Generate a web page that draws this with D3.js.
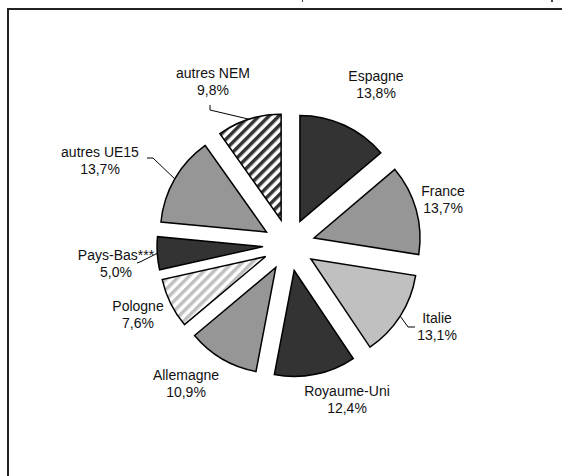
<!DOCTYPE html>
<html><head><meta charset="utf-8">
<script src="https://cdn.jsdelivr.net/npm/d3@7"></script>
<style>
html,body{margin:0;padding:0;background:#fff;}
svg{display:block;}
text{font-family:"Liberation Sans",Arial,sans-serif;font-size:14px;fill:#111;}
</style></head>
<body>
<svg id="chart" width="562" height="476"></svg>
<script>
// ---- data ----
const categories = ["Espagne","France","Italie","Royaume-Uni","Allemagne","Pologne","Pays-Bas***","autres UE15","autres NEM"];
const values = [13.8, 13.7, 13.1, 12.4, 10.9, 7.6, 5.0, 13.7, 9.8];
const valueLabels = ["13,8%","13,7%","13,1%","12,4%","10,9%","7,6%","5,0%","13,7%","9,8%"];

// ---- styles / layout (separate from data) ----
const fills = ["#333333","#969696","#c0c0c0","#333333","#969696","url(#stripeLight)","#333333","#969696","url(#stripeDark)"];
const labelPos = [[376,81],[443,196],[437,323],[347,396],[186,380],[138,311],[116,260],[100,157],[213,78]];
// leader: [elbow, end] or null
const leaders = [null,null,[[408,327],[415,327]],null,null,null,[[140,262],[137,263]],[[153,158],[147,158]],[[210,110],[210,105]]];

const cx = 289, cy = 245, R = 106, explode = 26;

const svg = d3.select("#chart");
const defs = svg.append("defs");
function stripe(id, color){
  const p = defs.append("pattern").attr("id", id).attr("patternUnits","userSpaceOnUse")
    .attr("width",7).attr("height",7).attr("patternTransform","rotate(45)");
  p.append("rect").attr("width",7).attr("height",7).attr("fill","#fff");
  p.append("rect").attr("width",3.5).attr("height",7).attr("fill",color);
}
stripe("stripeDark","#333333");
stripe("stripeLight","#c0c0c0");

// frame
svg.append("rect").attr("x",8).attr("y",9).attr("width",700).attr("height",700)
  .attr("fill","none").attr("stroke","#222").attr("stroke-width",2);
svg.append("rect").attr("x",302).attr("y",0).attr("width",1).attr("height",2).attr("fill","#444");
svg.append("rect").attr("x",551).attr("y",0).attr("width",2).attr("height",2).attr("fill","#444");

const pie = d3.pie().sort(null).value(d => d).startAngle(0).endAngle(2*Math.PI);
const arcs = pie(values);
const arc = d3.arc().innerRadius(0).outerRadius(R);

const g = svg.append("g").attr("transform", `translate(${cx},${cy})`);
function off(a){ const m=(a.startAngle+a.endAngle)/2; return [Math.sin(m)*explode, -Math.cos(m)*explode]; }

g.selectAll("path.slice").data(arcs).join("path")
  .attr("class","slice")
  .attr("d", arc)
  .attr("transform", d => { const o=off(d); return `translate(${o[0]},${o[1]})`; })
  .attr("fill", (d,i) => fills[i])
  .attr("stroke","#000").attr("stroke-width",1.5).attr("stroke-linejoin","miter");

// leader lines
arcs.forEach((a,i) => {
  if(!leaders[i]) return;
  const m=(a.startAngle+a.endAngle)/2, o=off(a);
  const sx = cx + o[0] + Math.sin(m)*R, sy = cy + o[1] - Math.cos(m)*R;
  const pts = [[sx,sy]].concat(leaders[i]);
  svg.append("path").attr("d", d3.line()(pts)).attr("fill","none").attr("stroke","#000").attr("stroke-width",1);
});

// labels
const lbl = svg.append("g");
categories.forEach((c,i) => {
  const t = lbl.append("text").attr("text-anchor","middle")
    .attr("x", labelPos[i][0]).attr("y", labelPos[i][1]);
  t.append("tspan").attr("x", labelPos[i][0]).text(c);
  t.append("tspan").attr("x", labelPos[i][0]).attr("dy", 17).text(valueLabels[i]);
});
</script>
</body></html>
